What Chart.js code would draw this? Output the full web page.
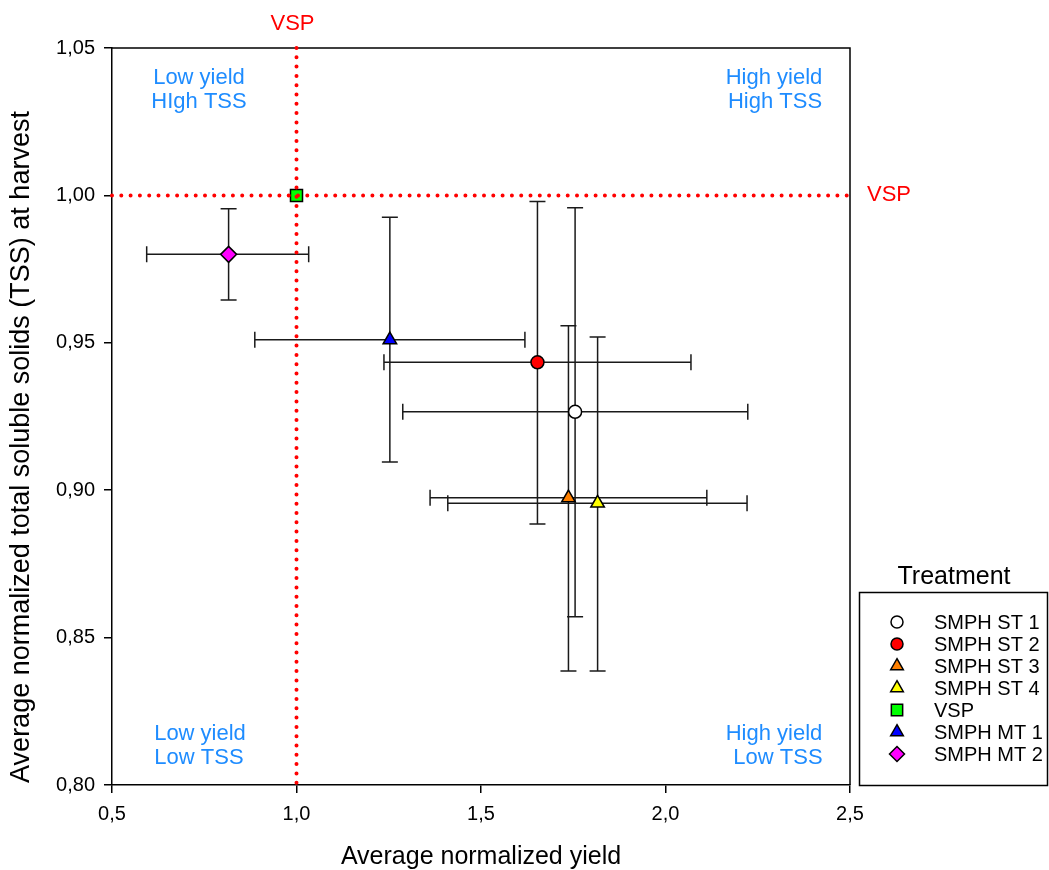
<!DOCTYPE html>
<html>
<head>
<meta charset="utf-8">
<script src="https://cdn.jsdelivr.net/npm/chart.js"></script>
<style>
  body { margin: 0; background: #fff; }
  canvas { display: block; }
</style>
</head>
<body>
<canvas id="grafico" width="1049" height="870"></canvas>
<script>
// treatments and their means / error bar ends
const treatments = ['SMPH ST 1', 'SMPH ST 2', 'SMPH ST 3', 'SMPH ST 4', 'VSP', 'SMPH MT 1', 'SMPH MT 2'];
const yieldMean = [1.755, 1.653, 1.737, 1.816, 1.0, 1.253, 0.816];
const yieldLow  = [1.288, 1.237, 1.362, 1.410, 1.0, 0.887, 0.594];
const yieldHigh = [2.223, 2.069, 2.112, 2.221, 1.0, 1.619, 1.033];
const tssMean = [0.9266, 0.9434, 0.8974, 0.8956, 1.0, 0.951, 0.980];
const tssLow  = [0.8571, 0.8885, 0.8387, 0.8387, 1.0, 0.9096, 0.9645];
const tssHigh = [0.9958, 0.9979, 0.9558, 0.9520, 1.0, 0.9926, 0.9955];

const xTicks = [0.5, 1.0, 1.5, 2.0, 2.5];
const yTicks = [0.80, 0.85, 0.90, 0.95, 1.00, 1.05];
const vspYield = 1.0;
const vspTss = 1.0;

const colores = ['#ffffff', '#ff0000', '#ff8000', '#ffff00', '#00ff00', '#0000ff', '#ff00ff'];
const estilos = ['circle', 'circle', 'triangle', 'triangle', 'rect', 'triangle', 'rectRot'];
const radios = [6.5, 6.5, 7.8, 7.8, 8.5, 7.8, 8];
const azul = '#1e8cff';
const fuente = '"Liberation Sans", Arial, sans-serif';

const datasets = treatments.map((t, i) => ({
    label: t,
    data: [{ x: yieldMean[i], y: tssMean[i] }],
    pointStyle: estilos[i],
    pointRadius: radios[i],
    pointHoverRadius: radios[i],
    backgroundColor: colores[i],
    borderColor: '#000',
    borderWidth: 1.5
}));

const errorBars = {
    id: 'errorBars',
    beforeDatasetsDraw(chart) {
        const { ctx, scales: { x, y } } = chart;
        ctx.save();
        ctx.strokeStyle = '#1a1a1a';
        ctx.lineWidth = 1.5;
        const cap = 8;
        treatments.forEach((t, i) => {
            if (yieldLow[i] === yieldHigh[i] && tssLow[i] === tssHigh[i]) return;
            const px = x.getPixelForValue(yieldMean[i]);
            const py = y.getPixelForValue(tssMean[i]);
            const x1 = x.getPixelForValue(yieldLow[i]);
            const x2 = x.getPixelForValue(yieldHigh[i]);
            const y1 = y.getPixelForValue(tssLow[i]);
            const y2 = y.getPixelForValue(tssHigh[i]);
            ctx.beginPath();
            ctx.moveTo(x1, py); ctx.lineTo(x2, py);
            ctx.moveTo(x1, py - cap); ctx.lineTo(x1, py + cap);
            ctx.moveTo(x2, py - cap); ctx.lineTo(x2, py + cap);
            ctx.moveTo(px, y1); ctx.lineTo(px, y2);
            ctx.moveTo(px - cap, y1); ctx.lineTo(px + cap, y1);
            ctx.moveTo(px - cap, y2); ctx.lineTo(px + cap, y2);
            ctx.stroke();
        });
        ctx.restore();
    }
};

const adornos = {
    id: 'adornos',
    afterDatasetsDraw(chart) {
        const { ctx, chartArea: a, scales: { x, y } } = chart;
        ctx.save();
        // frame (top / right)
        ctx.strokeStyle = '#000';
        ctx.lineWidth = 1.5;
        ctx.beginPath();
        ctx.moveTo(a.left, a.top); ctx.lineTo(a.right, a.top); ctx.lineTo(a.right, a.bottom);
        ctx.stroke();

        // VSP dotted reference lines
        const vx = x.getPixelForValue(vspYield);
        const vy = y.getPixelForValue(vspTss);
        ctx.strokeStyle = '#ff0000';
        ctx.lineWidth = 4;
        ctx.lineCap = 'round';
        ctx.setLineDash([0, 9.3]);
        ctx.beginPath();
        ctx.moveTo(vx, a.top); ctx.lineTo(vx, a.bottom);
        ctx.moveTo(a.left, vy); ctx.lineTo(a.right, vy);
        ctx.stroke();
        ctx.setLineDash([]);

        ctx.fillStyle = '#ff0000';
        ctx.font = '22px ' + fuente;
        ctx.textBaseline = 'middle';
        ctx.textAlign = 'center';
        ctx.fillText('VSP', vx - 4, 24);
        ctx.textAlign = 'left';
        ctx.fillText('VSP', a.right + 17, vy);

        // quadrant labels
        ctx.fillStyle = azul;
        ctx.textAlign = 'center';
        ctx.fillText('Low yield', 199, 78);
        ctx.fillText('HIgh TSS', 199, 102);
        ctx.fillText('High yield', 774, 78);
        ctx.fillText('High TSS', 775, 102);
        ctx.fillText('Low yield', 200, 734);
        ctx.fillText('Low TSS', 199, 758);
        ctx.fillText('High yield', 774, 734);
        ctx.fillText('Low TSS', 778, 758);

        // y axis title
        ctx.fillStyle = '#000';
        ctx.font = '27px ' + fuente;
        ctx.translate(22, 447);
        ctx.rotate(-Math.PI / 2);
        ctx.fillText('Average normalized total soluble solids (TSS) at harvest', 0, 0);
        ctx.restore();

        // legend
        ctx.save();
        ctx.fillStyle = '#000';
        ctx.textAlign = 'center';
        ctx.textBaseline = 'middle';
        ctx.font = '25px ' + fuente;
        ctx.fillText('Treatment', 954, 577);
        ctx.strokeStyle = '#000';
        ctx.lineWidth = 1.5;
        ctx.strokeRect(859.5, 592.5, 188, 193);
        ctx.font = '20px ' + fuente;
        ctx.textAlign = 'left';
        treatments.forEach((t, i) => {
            const ly = 622 + i * 22;
            ctx.fillStyle = colores[i];
            ctx.strokeStyle = '#000';
            ctx.lineWidth = 1.5;
            Chart.helpers.drawPoint(ctx, {
                pointStyle: estilos[i], radius: radios[i] - 0.5, rotation: 0, borderWidth: 1.5
            }, 897, ly);
            ctx.fillStyle = '#000';
            ctx.fillText(t, 934, ly + 1);
        });
        ctx.restore();
    }
};

new Chart(document.getElementById('grafico'), {
    type: 'scatter',
    data: { datasets },
    options: {
        responsive: false,
        animation: false,
        layout: { padding: { left: 0, top: 48, right: 199, bottom: 0 } },
        plugins: {
            legend: { display: false },
            tooltip: { enabled: false }
        },
        scales: {
            x: {
                type: 'linear',
                min: 0.5,
                max: 2.5,
                afterFit(s) { s.height = 85; },
                afterBuildTicks(s) { s.ticks = xTicks.map(v => ({ value: v })); },
                ticks: {
                    color: '#000',
                    padding: 9,
                    font: { family: fuente, size: 20 },
                    callback: v => v.toFixed(1).replace('.', ',')
                },
                grid: { drawOnChartArea: false, drawTicks: true, tickLength: 8, color: '#000', lineWidth: 1.5 },
                border: { display: true, color: '#000', width: 1.5 },
                title: {
                    display: true,
                    text: 'Average normalized yield',
                    color: '#000',
                    font: { family: fuente, size: 25, lineHeight: 1.0 },
                    padding: { top: 0, bottom: 0 }
                }
            },
            y: {
                type: 'linear',
                min: 0.8,
                max: 1.05,
                afterFit(s) { s.width = 112; },
                afterBuildTicks(s) { s.ticks = yTicks.map(v => ({ value: v })); },
                ticks: {
                    color: '#000',
                    padding: 9,
                    font: { family: fuente, size: 20 },
                    callback: v => v.toFixed(2).replace('.', ',')
                },
                grid: { drawOnChartArea: false, drawTicks: true, tickLength: 8, color: '#000', lineWidth: 1.5 },
                border: { display: true, color: '#000', width: 1.5 }
            }
        }
    },
    plugins: [errorBars, adornos]
});
</script>
</body>
</html>
